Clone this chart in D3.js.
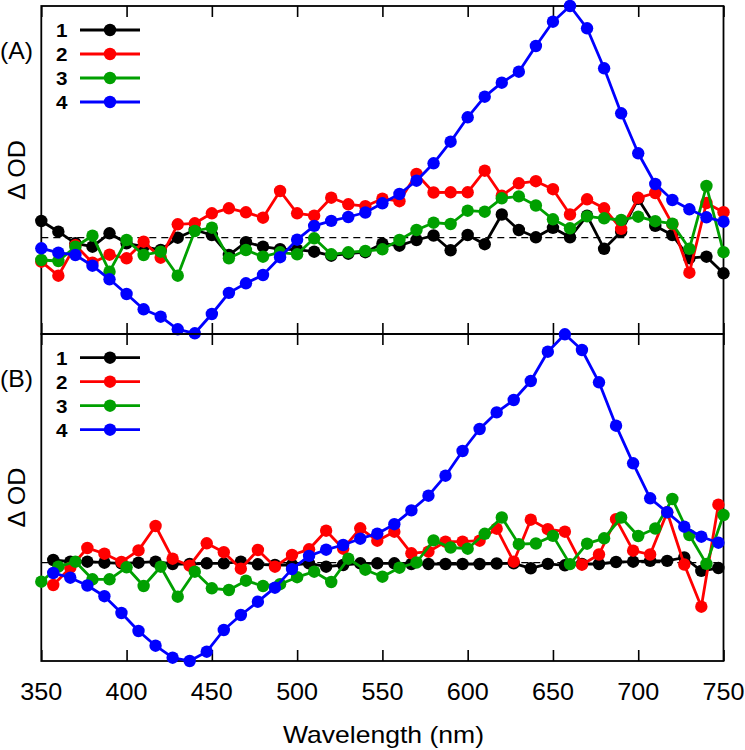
<!DOCTYPE html>
<html>
<head>
<meta charset="utf-8">
<script src="https://cdn.jsdelivr.net/npm/d3@7"></script>
<style>
  html, body { margin: 0; padding: 0; background: #fff; }
  svg { display: block; font-family: "Liberation Sans", Arial, sans-serif; }
</style>
</head>
<body>
<svg id="chart" width="745" height="750"></svg>
<script>
// ---------------- data ----------------
// wavelength grids (nm)
const wlA = d3.range(350, 751, 10);          // panel A, all series
const wlB = d3.range(357, 748, 10);          // panel B, series 1, 2, 4
const wlB3 = d3.range(350, 751, 10);         // panel B, series 3
const seriesNames = ["1", "2", "3", "4"];
const seriesColors = ["#000000", "#ff0000", "#00a000", "#0000ff"];
const xTicks = [350, 400, 450, 500, 550, 600, 650, 700, 750];

// Panel A (ΔOD, arbitrary units)
const a1 = [16.7, 6.0, -5.6, -9, 4.4, -5.6, -9, -12.3, 0, 7.7, 2.7, -17.3, -4.5, -9, -11.5, -12, -14, -18, -16, -14.5,
            -6, -8, -2.3, 2.2, -12.6, 2.7, -6.5, 23.2, 7.7, 0.4, 9.9, 0.4, 22, -11.1, 6, 38.8, 11.8, 2.7, -20.5, -19, -35.6];
const a2 = [-24, -38, -7.5, -25, -17, -20.6, -4, -20, 13.4, 14.4, 24.4, 29.4, 25.4, 20, 46.7, 24.4, 22, 40, 33.4, 31.5,
            39, 36.5, 63.7, 45.2, 45.4, 45.4, 67, 42, 54.4, 56.5, 48.5, 23.2, 38.4, 29.4, 8.9, 39.9, 44.7, 13.5, -35, 34.7, 25.5];
const a3 = [-22.3, -23.3, -9, 2, -34, -2.3, -17.3, -14, -38, 6.7, 10, -20.6, -12.3, -19, -14.6, -16.6, -0.6, -16.6, -14.6, -13.3,
            -11.6, -2.3, 7.7, 15, 13.7, 27, 26, 39.4, 41.3, 32.2, 18.4, 9.4, 21.3, 19.4, 17.7, 21, 16.5, 14, -11.1, 51.7, -14.5];
const a4 = [-10.6, -15, -17.3, -28, -41.6, -56.3, -71.6, -79, -91.6, -95.6, -76.3, -55.2, -45.6, -37.3, -19.5, -2, 11.8, 16.8, 20.7, 25.2,
            34.4, 43.7, 57, 74.4, 96, 120.4, 141, 155, 166, 191.7, 216, 231.7, 209.4, 169.4, 124.4, 84.4, 53.7, 37.7, 28.4, 20.4, 16];

// Panel B (ΔOD, arbitrary units)
const b1 = [2.7, 1, 1, 0, -0.6, 0, 1, -1.3, -1.3, -0.6, -0.6, 1, -1.6, -2.3, -2.3, -0.6, -4, -2.3, -0.6, -0.6,
            -0.6, -1.3, -1.3, -1.3, -1.3, -1.3, -0.8, -0.6, -5.6, -1.2, -2.6, -1.3, -1.3, 0.7, 1, 1.8, 1.8, 5.2, -8.2, -5.3];
const b2 = [-22.3, -5, 14.7, 9, 0.7, 12.3, 36.7, 4, -3, 19.4, 10.5, -6, 12.7, -4, 7.7, 13.4, 32, 14, 34.4, 22,
            31, 9.4, 11, 21, 21, 22, 34, 1, 43, 33.5, 31, -2, 8.2, 43.5, 12, 8.2, 50.5, -1.8, -44, 58];
const b3 = [-19, -4, 1, -16.6, -16.6, -4.6, -23.3, -4, -34, -9, -25.6, -27.3, -18, -23.3, -21.5, -14.5, -9, -19.3, 4, -7,
            -14, -5, 0.2, 22.3, 15.2, 14, 28.9, 45.2, 18.5, 19.2, 26.8, -1.4, 19, 24.4, 45.2, 26.7, 34.2, 63.7, 27.7, -1.2, 47.7];
const b4 = [-10.3, -15, -22.8, -33.5, -50.3, -68.3, -83, -95, -98.3, -89, -67.3, -52.3, -39, -25, -6.4, 6.8, 13, 17.7, 24, 29,
            38.5, 52.3, 67, 87, 111.7, 133.7, 150.3, 162.7, 181.7, 211, 228.4, 212.7, 180.4, 137, 99.4, 64.4, 50.4, 36, 26, 20];

// ---------------- layout ----------------
const svg = d3.select("#chart");
const left = 41.3, right = 723.5;
const x = d3.scaleLinear().domain([350, 750]).range([left, right]);

const panels = [
  { label: "(A)", top: 6, bottom: 334, domain: [-96.3, 231.7],
    xs: [wlA, wlA, wlA, wlA], ys: [a1, a2, a3, a4], legendY: 30, labelY: 59 },
  { label: "(B)", top: 334, bottom: 661, domain: [-98.3, 228.7],
    xs: [wlB, wlB, wlB3, wlB], ys: [b1, b2, b3, b4], legendY: 357.7, labelY: 386.5 }
];

panels.forEach(p => {
  const y = d3.scaleLinear().domain(p.domain).range([p.bottom, p.top]);
  const g = svg.append("g");

  // zero dashed line
  g.append("line")
    .attr("x1", x(350)).attr("x2", x(750))
    .attr("y1", y(0)).attr("y2", y(0))
    .attr("stroke", "#000").attr("stroke-width", 1.3)
    .attr("stroke-dasharray", "7,5");

  // frame
  g.append("rect")
    .attr("x", left).attr("y", p.top)
    .attr("width", right - left).attr("height", p.bottom - p.top)
    .attr("fill", "none").attr("stroke", "#000").attr("stroke-width", 1.8);

  // inward ticks on top and bottom
  const axB = d3.axisBottom(x).tickValues(xTicks).tickSizeInner(-11).tickSizeOuter(0).tickFormat("");
  const axT = d3.axisTop(x).tickValues(xTicks).tickSizeInner(-11).tickSizeOuter(0).tickFormat("");
  const gb = g.append("g").attr("transform", `translate(0,${p.bottom})`).call(axB);
  const gt = g.append("g").attr("transform", `translate(0,${p.top})`).call(axT);
  [gb, gt].forEach(a => {
    a.select(".domain").remove();
    a.selectAll("line").attr("stroke", "#000").attr("stroke-width", 1.6);
  });

  // series
  const line = d3.line().x(d => x(d[0])).y(d => y(d[1]));
  p.ys.forEach((vals, i) => {
    const pts = vals.map((v, k) => [p.xs[i][k], v]);
    const sg = g.append("g");
    sg.append("path").datum(pts)
      .attr("d", line).attr("fill", "none")
      .attr("stroke", seriesColors[i]).attr("stroke-width", 2.8)
      .attr("stroke-linejoin", "round");
    sg.selectAll("circle").data(pts).join("circle")
      .attr("cx", d => x(d[0])).attr("cy", d => y(d[1]))
      .attr("r", 6.2).attr("fill", seriesColors[i]);
  });

  // legend
  seriesNames.forEach((name, i) => {
    const ly = p.legendY + i * 24;
    g.append("text").attr("x", 56).attr("y", ly + 7)
      .attr("font-size", 19).attr("font-weight", "bold").attr("fill", "#000")
      .attr("textLength", 11.5).attr("lengthAdjust", "spacingAndGlyphs")
      .text(name);
    g.append("line").attr("x1", 80).attr("x2", 140).attr("y1", ly).attr("y2", ly)
      .attr("stroke", seriesColors[i]).attr("stroke-width", 2.8);
    g.append("circle").attr("cx", 110).attr("cy", ly).attr("r", 6.2).attr("fill", seriesColors[i]);
  });

  // panel label
  g.append("text").attr("x", 0).attr("y", p.labelY)
    .attr("font-size", 24).attr("fill", "#000")
    .attr("textLength", 33).attr("lengthAdjust", "spacingAndGlyphs")
    .text(p.label);

  // y label
  const cy = (p.top + p.bottom) / 2;
  g.append("text")
    .attr("transform", `translate(25,${cy}) rotate(-90)`)
    .attr("x", -30)
    .attr("font-size", 24).attr("fill", "#000")
    .attr("textLength", 60).attr("lengthAdjust", "spacingAndGlyphs")
    .text("Δ OD");
});

// x tick labels
svg.append("g").selectAll("text").data(xTicks).join("text")
  .attr("x", d => x(d) - 21).attr("y", 700)
  .attr("font-size", 24).attr("fill", "#000")
  .attr("textLength", 42).attr("lengthAdjust", "spacingAndGlyphs")
  .text(d => d);

// x axis title
svg.append("text").attr("x", 283).attr("y", 743)
  .attr("font-size", 24).attr("fill", "#000")
  .attr("textLength", 201).attr("lengthAdjust", "spacingAndGlyphs")
  .text("Wavelength (nm)");
</script>
</body>
</html>
